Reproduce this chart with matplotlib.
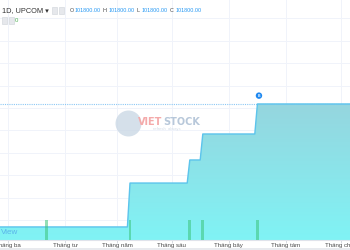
import matplotlib.pyplot as plt
import matplotlib as mpl
import numpy as np
from matplotlib.patches import Rectangle

mpl.use('Agg')
plt.rcParams['font.family'] = ['Liberation Sans', 'DejaVu Sans']

# trading days with a trade (bar index), close price and volume
trade_idx = [18, 50, 73, 78, 99]
trade_close = [46900, 66500, 76800, 88400, 101800]
trade_vol = [100, 100, 100, 100, 100]
start_close = 46900
n_bars = 136

# month ticks (bar index of first session)
month_idx = [3, 25, 45, 66, 88, 110, 131]
month_lbl = ['Tháng ba', 'Tháng tư', 'Tháng năm', 'Tháng sáu',
             'Tháng bảy', 'Tháng tám', 'Tháng chín']

last = 101800.00

# daily close, carried forward between trades
bars = np.arange(n_bars)
close = np.full(n_bars, float(start_close))
for i, c in zip(trade_idx, trade_close):
    close[i:] = c

fig = plt.figure(figsize=(3.5, 2.5), dpi=100)
ax = fig.add_axes([0, 0.04, 1, 0.96])
ax.set_xlim(0, 350 / 2.6)
ax.set_ylim(41071, 148214)

# grid
for m in month_idx:
    ax.axvline(m, color='#f0f3fa', lw=0.7, zorder=0)
for v in range(50000, 150000, 10000):
    ax.axhline(v, color='#f0f3fa', lw=0.7, zorder=0)

# gradient area
fill = ax.fill_between(bars, close, 41071, color='none')
grad = np.linspace(0, 1, 256).reshape(-1, 1)
cmap = mpl.colors.LinearSegmentedColormap.from_list('g', ['#80f3f5', '#9ccdd8'])
im = ax.imshow(grad, cmap=cmap, aspect='auto', origin='lower',
               extent=[0, 350 / 2.6, 41071, 120000], zorder=1)
im.set_clip_path(fill.get_paths()[0], transform=ax.transData)
ax.plot(bars, close, color='#5cc4ec', lw=1, zorder=3)

# last price line
ax.axhline(last, color='#8cc8f4', lw=0.8, ls=(0, (1, 1)), zorder=2)
ax.annotate('B', xy=(99.6, last), xytext=(0, 6), textcoords='offset points',
            ha='center', va='center', fontsize=2.5, color='white', fontweight='bold',
            bbox=dict(boxstyle='circle,pad=0.35', fc='#1e88f0', ec='none'), zorder=5)

# volume
axv = ax.twinx()
axv.set_ylim(0, 1200)
axv.bar(trade_idx, trade_vol, width=1.1, color='#3cc47a', alpha=0.55, zorder=4)
axv.axis('off')

# watermark
ax.scatter([49.2], [93300], s=350, color='#c8d6e4', alpha=0.75, zorder=2, lw=0)
ax.text(53.2, 93750, 'VIET', color='#f4aaaa', fontsize=7, fontweight='bold',
        family='DejaVu Sans', va='center', zorder=2)
ax.text(62.8, 93750, 'STOCK', color='#b8c8da', fontsize=7, fontweight='bold',
        family='DejaVu Sans', va='center', zorder=2)
ax.text(59, 90800, 'refresh  always', color='#d4dde8', fontsize=3, va='center', zorder=2)

ax.set_xticks(month_idx)
ax.set_xticklabels(month_lbl, fontsize=4.4, color='#4a4a4a')
ax.tick_params(axis='x', length=2, width=0.5, color='#c8ccd4', pad=0.5)
ax.set_yticks([])
for s in ['top', 'right', 'left']:
    ax.spines[s].set_visible(False)
ax.spines['bottom'].set_color('#e0e3eb')
ax.spines['bottom'].set_linewidth(0.8)

ax.text(0.002, 0.03, 'View', transform=ax.transAxes, fontsize=5.8, color='#5ab4ea',
        va='center', zorder=6)

# header
fig.text(0.005, 0.958, '1D, UPCOM ▾', fontsize=5.3, color='#333333', va='center')
for xp in [0.148, 0.168]:
    fig.patches.append(Rectangle((xp, 0.945), 0.016, 0.026, transform=fig.transFigure,
                                 fc='#e6e8ec', ec='#cfd3da', lw=0.4))
for xp in [0.005, 0.025]:
    fig.patches.append(Rectangle((xp, 0.905), 0.016, 0.026, transform=fig.transFigure,
                                 fc='#e6e8ec', ec='#cfd3da', lw=0.4))
x0 = 0.198
for k in ['O', 'H', 'L', 'C']:
    fig.text(x0, 0.958, k, fontsize=3.9, color='#444444', va='center')
    fig.text(x0 + 0.016, 0.958, '%.2f' % last, fontsize=3.9, color='#2196f3', va='center')
    x0 += 0.0955
fig.text(0.043, 0.918, '0', fontsize=4.3, color='#4caf50', va='center')

fig.patches.append(Rectangle((0, 0), 1, 0.01, transform=fig.transFigure,
                             fc='#e8eaee', ec='none'))

fig.savefig('out.png', dpi=100)
